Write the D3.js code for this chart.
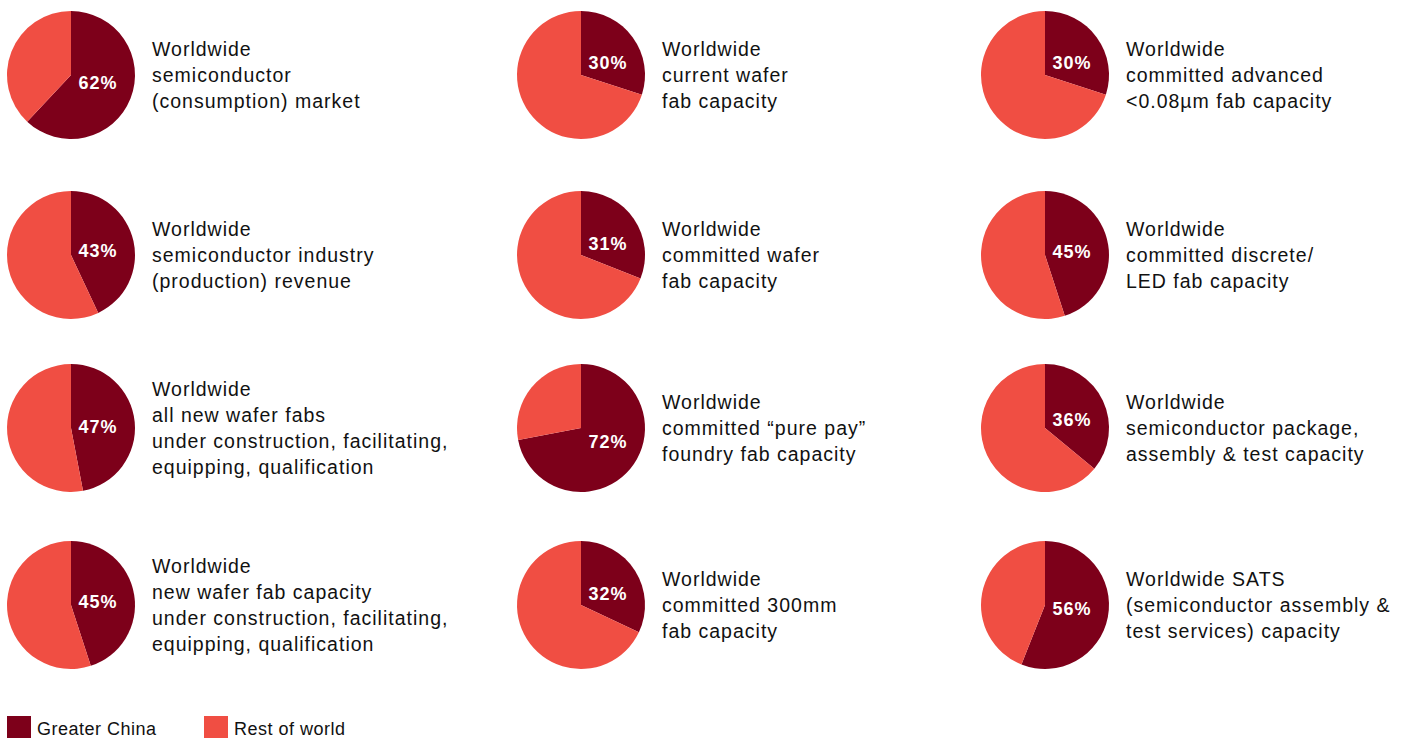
<!DOCTYPE html>
<html>
<head>
<meta charset="utf-8">
<script src="https://cdn.jsdelivr.net/npm/d3@7"></script>
<style>
  body { margin: 0; background: #fff; }
  text { font-family: "Liberation Sans", Arial, sans-serif; }
</style>
</head>
<body>
<div class="canvas"></div>
<script>
// chart data: share of Greater China, one pie per metric (row by row)
const shares = [62, 30, 30, 43, 31, 45, 47, 72, 36, 45, 32, 56]
const titles = [
  ['Worldwide', 'semiconductor', '(consumption) market'],
  ['Worldwide', 'current wafer', 'fab capacity'],
  ['Worldwide', 'committed advanced', '<0.08µm fab capacity'],
  ['Worldwide', 'semiconductor industry', '(production) revenue'],
  ['Worldwide', 'committed wafer', 'fab capacity'],
  ['Worldwide', 'committed discrete/', 'LED fab capacity'],
  ['Worldwide', 'all new wafer fabs', 'under construction, facilitating,', 'equipping, qualification'],
  ['Worldwide', 'committed \u201cpure pay\u201d', 'foundry fab capacity'],
  ['Worldwide', 'semiconductor package,', 'assembly & test capacity'],
  ['Worldwide', 'new wafer fab capacity', 'under construction, facilitating,', 'equipping, qualification'],
  ['Worldwide', 'committed 300mm', 'fab capacity'],
  ['Worldwide SATS', '(semiconductor assembly &', 'test services) capacity']
]
const groups = ['Greater China', 'Rest of world']

// layout settings
const dims = { width: 1409, height: 738, radius: 64 }
const colX = [71, 581, 1045]
const rowY = [75, 255, 428, 605]
const lineH = 26

const colour = d3.scaleOrdinal()
  .domain(groups)
  .range(['#7d001a', '#f04e43'])

const svg = d3.select('.canvas')
  .append('svg')
  .attr('width', dims.width)
  .attr('height', dims.height)

const pie = d3.pie()
  .sort(null)
  .value(d => d.value)

const arcPath = d3.arc()
  .outerRadius(dims.radius)
  .innerRadius(0)

shares.forEach((share, i) => {
  const cx = colX[i % 3]
  const cy = rowY[Math.floor(i / 3)]
  const data = [
    { name: groups[0], value: share },
    { name: groups[1], value: 100 - share }
  ]

  const g = svg.append('g')
    .attr('transform', `translate(${cx}, ${cy})`)

  g.selectAll('path')
    .data(pie(data))
    .enter()
    .append('path')
    .attr('d', arcPath)
    .attr('fill', d => colour(d.data.name))

  // percentage label, nudged toward the dark slice
  const mid = Math.PI * share / 100
  g.append('text')
    .attr('x', 27)
    .attr('y', -21 * Math.cos(mid) + 6.5)
    .attr('text-anchor', 'middle')
    .attr('fill', '#fff')
    .attr('font-weight', 'bold')
    .attr('font-size', 18)
    .attr('letter-spacing', 1)
    .text(share + '%')

  // title lines, vertically centered on the pie
  const lines = titles[i]
  g.append('g')
    .selectAll('text')
    .data(lines)
    .enter()
    .append('text')
    .attr('x', 81)
    .attr('y', (d, j) => (j - (lines.length - 1) / 2) * lineH + 6.5)
    .attr('fill', '#111')
    .attr('font-size', 19.5)
    .attr('letter-spacing', 1)
    .text(d => d)
})

// legend
const legend = svg.append('g')
  .attr('transform', 'translate(7, 716)')

const items = legend.selectAll('g')
  .data(groups)
  .enter()
  .append('g')
  .attr('transform', (d, i) => `translate(${i * 197}, 0)`)

items.append('rect')
  .attr('width', 24)
  .attr('height', 24)
  .attr('fill', d => colour(d))

items.append('text')
  .attr('x', 30)
  .attr('y', 19)
  .attr('fill', '#111')
  .attr('font-size', 18)
  .attr('letter-spacing', 0.5)
  .text(d => d)
</script>
</body>
</html>
